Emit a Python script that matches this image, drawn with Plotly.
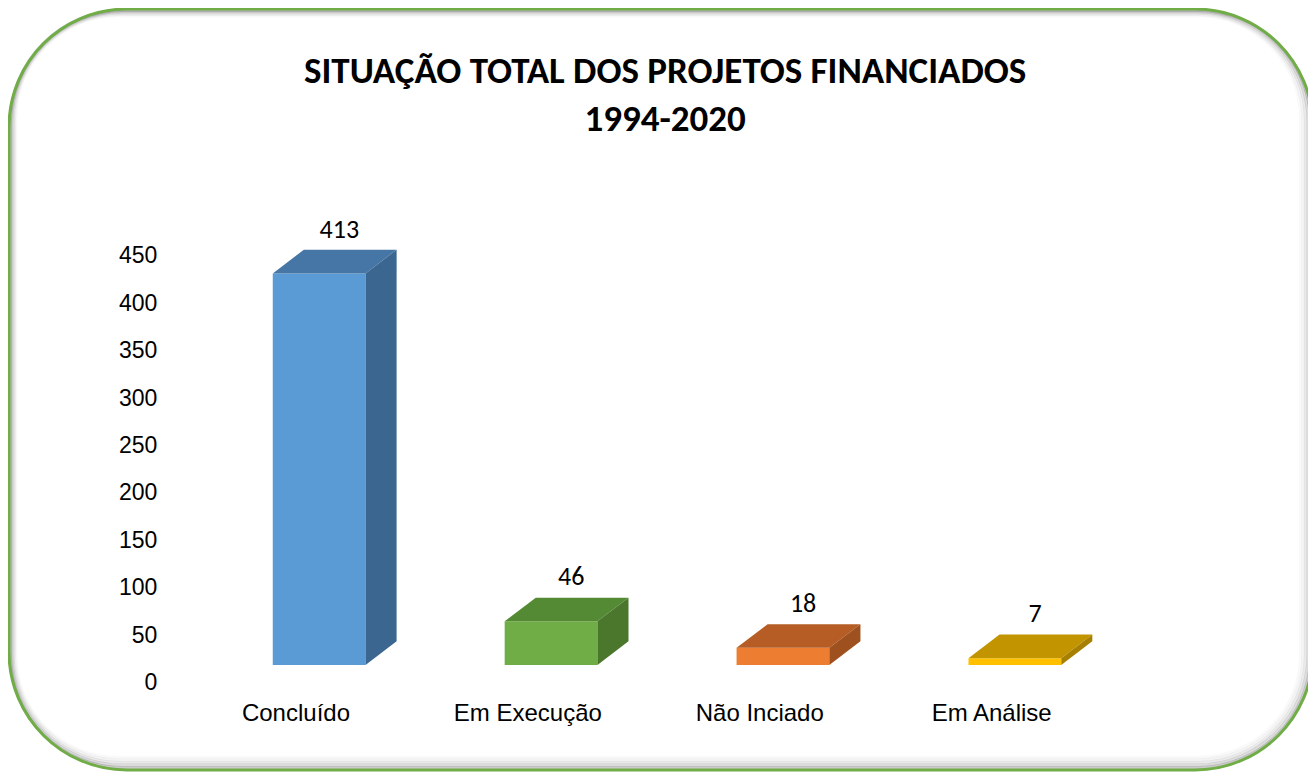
import plotly.graph_objects as go

# ---- data ----
categories = ["Concluído", "Em Execução", "Não Inciado", "Em Análise"]
values = [413, 46, 18, 7]
front_colors = ["#5B9BD5", "#70AD47", "#ED7D31", "#FFC000"]
top_colors = ["#4676A6", "#558A34", "#B55D24", "#C29400"]
side_colors = ["#3B6690", "#4A772C", "#9E501E", "#A88000"]
y_ticks = [0, 50, 100, 150, 200, 250, 300, 350, 400, 450]
title_lines = ["SITUAÇÃO TOTAL DOS PROJETOS FINANCIADOS", "1994-2020"]

# ---- 3D look parameters ----
FLOOR = 18      # front face base (value units)
W = 0.4         # front face width (x units)
DX = 0.134      # depth offset in x
DY = 25         # depth offset in y (value units)

OFF = 8                      # page body margin
W_PX, H_PX = 1316 - OFF, 774 - OFF
# plot area in page pixels: x 180..1154, y 208..682
ML = 180 - OFF
MT = 208 - OFF
PW = 974
PH = 474
MR = W_PX - ML - PW
MB = H_PX - MT - PH

fig = go.Figure()
xs = list(range(len(categories)))

fig.add_trace(go.Bar(x=xs, y=values, base=FLOOR, width=W,
                     marker=dict(color=front_colors, line=dict(width=0)),
                     hoverinfo="skip", showlegend=False))

for i, v in enumerate(values):
    x0, x1 = i - W / 2, i + W / 2
    b, t = FLOOR, FLOOR + v
    fig.add_trace(go.Scatter(
        x=[x0, x1, x1 + DX, x0 + DX, x0], y=[t, t, t + DY, t + DY, t],
        fill="toself", fillcolor=top_colors[i], line=dict(width=0),
        mode="lines", hoverinfo="skip", showlegend=False))
    fig.add_trace(go.Scatter(
        x=[x1, x1 + DX, x1 + DX, x1, x1], y=[b, b + DY, t + DY, t, b],
        fill="toself", fillcolor=side_colors[i], line=dict(width=0),
        mode="lines", hoverinfo="skip", showlegend=False))

fig.add_trace(go.Scatter(
    x=[i + DX / 2 + 0.02 for i in xs],
    y=[FLOOR + v + DY + 6 for v in values],
    text=[str(v) for v in values], mode="text", textposition="top center",
    textfont=dict(family="Carlito, 'Open Sans', sans-serif", size=26, color="#000000"),
    hoverinfo="skip", showlegend=False))

# ---- rounded border with soft inner shadow (page pixel coords) ----
def px(x):
    return (x - OFF - ML) / PW

def py(y):
    return (MT + PH - (y - OFF)) / PH

def rrect(x0, y0, x1, y1, r):
    k = 0.5523 * r
    pts = [
        ("M", [(x0 + r, y0)]),
        ("L", [(x1 - r, y0)]),
        ("C", [(x1 - r + k, y0), (x1, y0 + r - k), (x1, y0 + r)]),
        ("L", [(x1, y1 - r)]),
        ("C", [(x1, y1 - r + k), (x1 - r + k, y1), (x1 - r, y1)]),
        ("L", [(x0 + r, y1)]),
        ("C", [(x0 + r - k, y1), (x0, y1 - r + k), (x0, y1 - r)]),
        ("L", [(x0, y0 + r)]),
        ("C", [(x0, y0 + r - k), (x0 + r - k, y0), (x0 + r, y0)]),
    ]
    s = ""
    for cmd, ps in pts:
        s += cmd + " " + " ".join(f"{px(a):.5f},{py(b):.5f}" for a, b in ps) + " "
    return s + "Z"

shapes = []
for j, op in enumerate([0.30, 0.20, 0.12, 0.07, 0.035]):
    d = 2.5 + j * 2.5
    shapes.append(dict(type="path", xref="paper", yref="paper",
                       path=rrect(9 + d * 0.55, 9 + d * 0.55, 1313 - d, 770 - d, 115 - d),
                       line=dict(color=f"rgba(80,80,80,{op})", width=3), layer="below"))
shapes.append(dict(type="path", xref="paper", yref="paper",
                   path=rrect(9, 9, 1313, 770, 118),
                   line=dict(color="#70AD47", width=3), layer="below"))

fig.update_layout(
    width=W_PX, height=H_PX,
    margin=dict(l=ML, r=MR, t=MT, b=MB, autoexpand=False),
    paper_bgcolor="white", plot_bgcolor="rgba(0,0,0,0)",
    shapes=shapes,
    showlegend=False,
    xaxis=dict(range=[-0.6, 3.6], tickvals=[i - 0.1 for i in xs], ticktext=categories,
               showgrid=False, zeroline=False, showline=False,
               ticks="outside", ticklen=9, tickcolor="rgba(0,0,0,0)",
               tickfont=dict(family="'Liberation Sans', Arial, sans-serif", size=24, color="#000000"),
               fixedrange=True),
    yaxis=dict(range=[0, 500], tickvals=y_ticks,
               showgrid=False, zeroline=False, showline=False,
               ticks="outside", ticklen=17, tickcolor="rgba(0,0,0,0)",
               tickfont=dict(family="'Liberation Sans', Arial, sans-serif", size=23, color="#000000"),
               fixedrange=True),
    annotations=[dict(xref="paper", yref="paper", x=px(665), y=py(95),
                      xanchor="center", yanchor="middle", showarrow=False,
                      text="<b>" + "<br>".join(title_lines) + "</b>",
                      font=dict(family="Carlito, 'Open Sans', sans-serif", size=37, color="#000000"))],
)

fig.write_html("out.html")
